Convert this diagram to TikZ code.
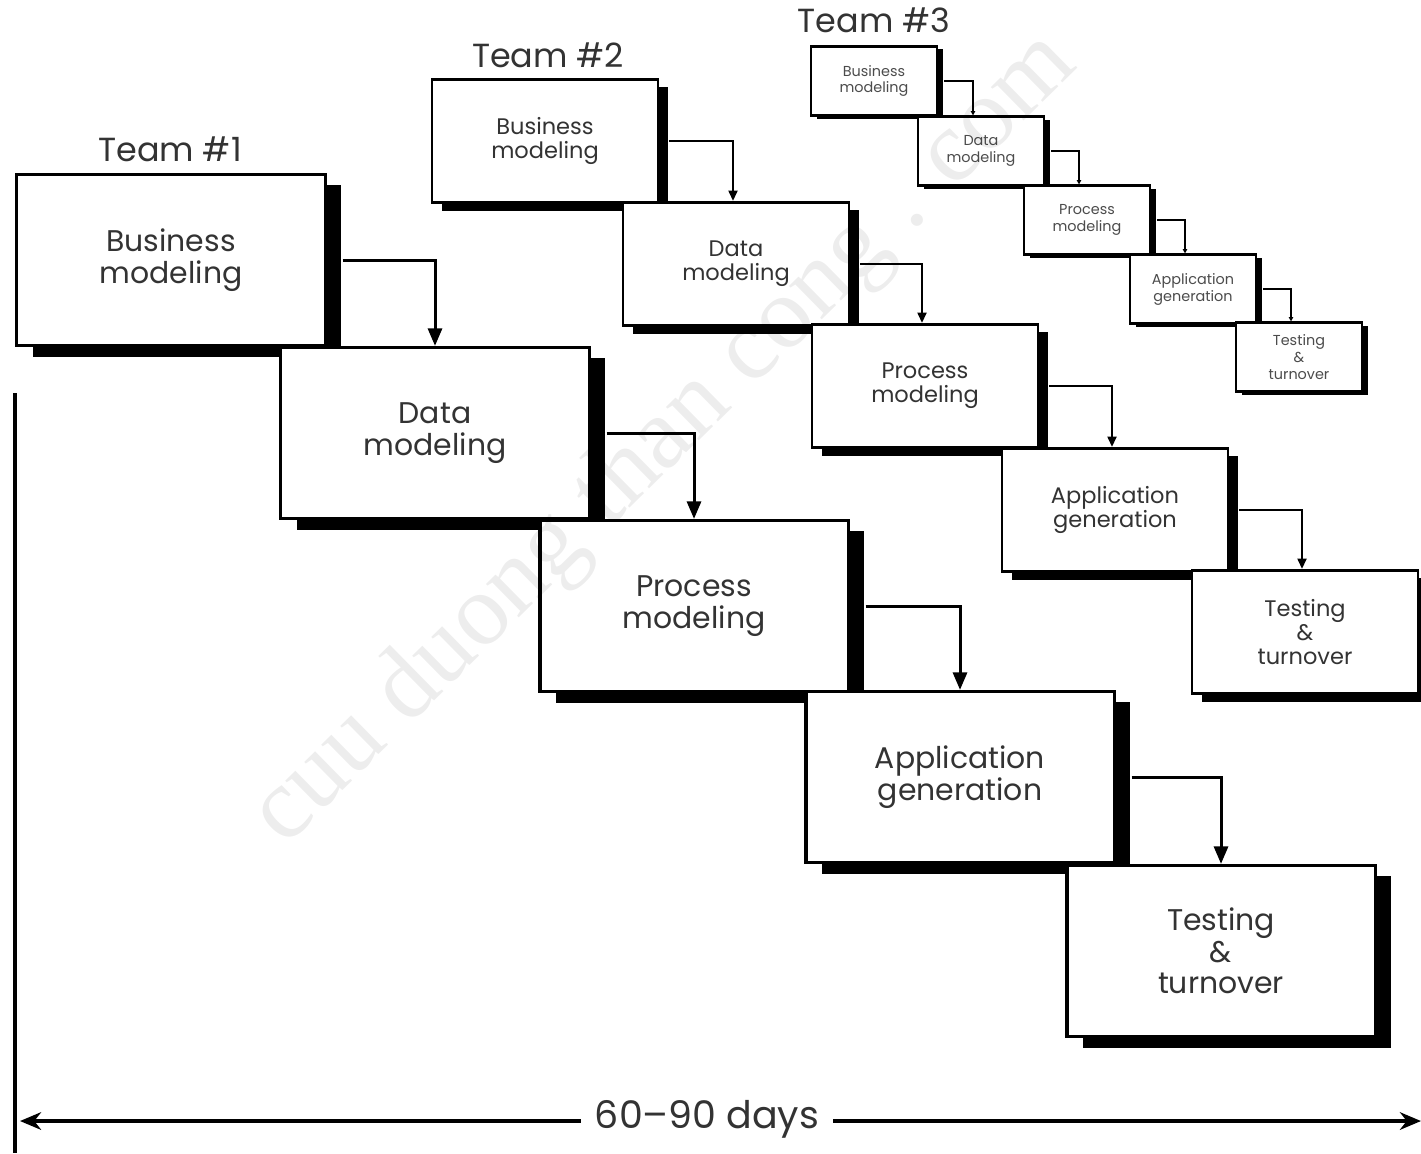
\documentclass[tikz,border=0pt]{standalone}
\usepackage{fontspec}
\setmainfont{Poppins}
\newfontfamily\wmfont{Liberation Serif}
\usetikzlibrary{arrows.meta,shadows}
\begin{document}
\begin{tikzpicture}[x=0.01cm,y=-0.01cm,
  stage/.style={draw=black, fill=white, inner sep=0pt, align=center, text=black!80},
  tierone/.style={stage, line width=0.9pt, minimum width=3.08cm, minimum height=1.71cm,
    font=\fontsize{8.5}{8.9}\selectfont,
    general shadow={fill=black, shadow xshift=0.16cm, shadow yshift=-0.11cm}},
  tiertwo/.style={stage, line width=0.8pt, minimum width=2.26cm, minimum height=1.23cm,
    font=\fontsize{6.4}{6.8}\selectfont,
    general shadow={fill=black, shadow xshift=0.10cm, shadow yshift=-0.08cm}},
  tierthree/.style={stage, line width=0.6pt, minimum width=1.26cm, minimum height=0.69cm,
    font=\fontsize{4.1}{4.8}\selectfont, text=black!70,
    general shadow={fill=black, shadow xshift=0.06cm, shadow yshift=-0.03cm}},
  teamlabel/.style={font=\fontsize{9.5}{10}\selectfont, text=black!80, inner sep=0pt},
  flowone/.style={line width=0.85pt, -{Triangle[length=5pt,width=4pt]}},
  flowtwo/.style={line width=0.75pt, -{Triangle[length=3pt,width=2.5pt]}},
  flowthree/.style={line width=0.55pt, -{Triangle[length=1.2pt,width=1.2pt]}},
  span/.style={line width=1.2pt, {Stealth[length=6pt,width=5pt]}-{Stealth[length=6pt,width=5pt]}}
]
\fill[white] (0,0) rectangle (1421,1153);
\useasboundingbox (0,0) rectangle (1421,1153);

% Team 1: full-size stages
\node[teamlabel] (t1) at (170,149) {Team \#1};
\node[tierone] (b1) at (171,260) {Business\\modeling};
\node[tierone] (d1) at (435,433) {Data\\modeling};
\node[tierone] (p1) at (694,606) {Process\\modeling};
\node[tierone] (a1) at (960,777) {Application\\generation};
\node[tierone] (g1) at (1221,951) {Testing\\\&\\turnover};

% Team 2: medium stages
\node[teamlabel] (t2) at (548,55) {Team \#2};
\node[tiertwo] (b2) at (545,141) {Business\\modeling};
\node[tiertwo] (d2) at (736,264) {Data\\modeling};
\node[tiertwo] (p2) at (925,386) {Process\\modeling};
\node[tiertwo] (a2) at (1115,510) {Application\\generation};
\node[tiertwo] (g2) at (1305,632) {Testing\\\&\\turnover};

% Team 3: small stages
\node[teamlabel] (t3) at (874,20) {Team \#3};
\node[tierthree] (b3) at (874,81) {Business\\modeling};
\node[tierthree] (d3) at (981,151) {Data\\modeling};
\node[tierthree] (p3) at (1087,220) {Process\\modeling};
\node[tierthree] (a3) at (1193,289) {Application\\generation};
\node[tierthree] (g3) at (1299,357) {Testing\\\&\\turnover};

% hand-off arrows
\draw[flowone] ([xshift=0.16cm]b1.east) -| (d1.north);
\draw[flowone] ([xshift=0.16cm]d1.east) -| (p1.north);
\draw[flowone] ([xshift=0.16cm]p1.east) -| (a1.north);
\draw[flowone] ([xshift=0.16cm]a1.east) -| (g1.north);

\draw[flowtwo] ([xshift=0.10cm]b2.east) -| ([xshift=-0.03cm]d2.north);
\draw[flowtwo] ([xshift=0.10cm]d2.east) -| ([xshift=-0.03cm]p2.north);
\draw[flowtwo] ([xshift=0.10cm]p2.east) -| ([xshift=-0.03cm]a2.north);
\draw[flowtwo] ([xshift=0.10cm]a2.east) -| ([xshift=-0.03cm]g2.north);

\draw[flowthree] ([xshift=0.06cm]b3.east) -| ([xshift=-0.08cm]d3.north);
\draw[flowthree] ([xshift=0.06cm]d3.east) -| ([xshift=-0.08cm]p3.north);
\draw[flowthree] ([xshift=0.06cm]p3.east) -| ([xshift=-0.08cm]a3.north);
\draw[flowthree] ([xshift=0.06cm]a3.east) -| ([xshift=-0.08cm]g3.north);

% time scale
\coordinate (axtop) at (15,393);
\coordinate (axbot) at (15,1153);
\draw[line width=1.4pt] (axtop) -- (axbot);
\coordinate (spl) at (20,1121);
\coordinate (spr) at (1421,1121);
\draw[span] (spl) -- (spr);
\node[fill=white, inner xsep=4pt, inner ysep=2pt, font=\fontsize{10.8}{11}\selectfont, text=black!80] (days) at (707,1119) {60–90 days};

% site mark across the sheet
\node[rotate=44.5, text=black, text opacity=0.07, font=\wmfont\fontsize{29}{29}\selectfont] (wm) at (665,440) {cuu duong than cong . com};
\end{tikzpicture}
\end{document}
